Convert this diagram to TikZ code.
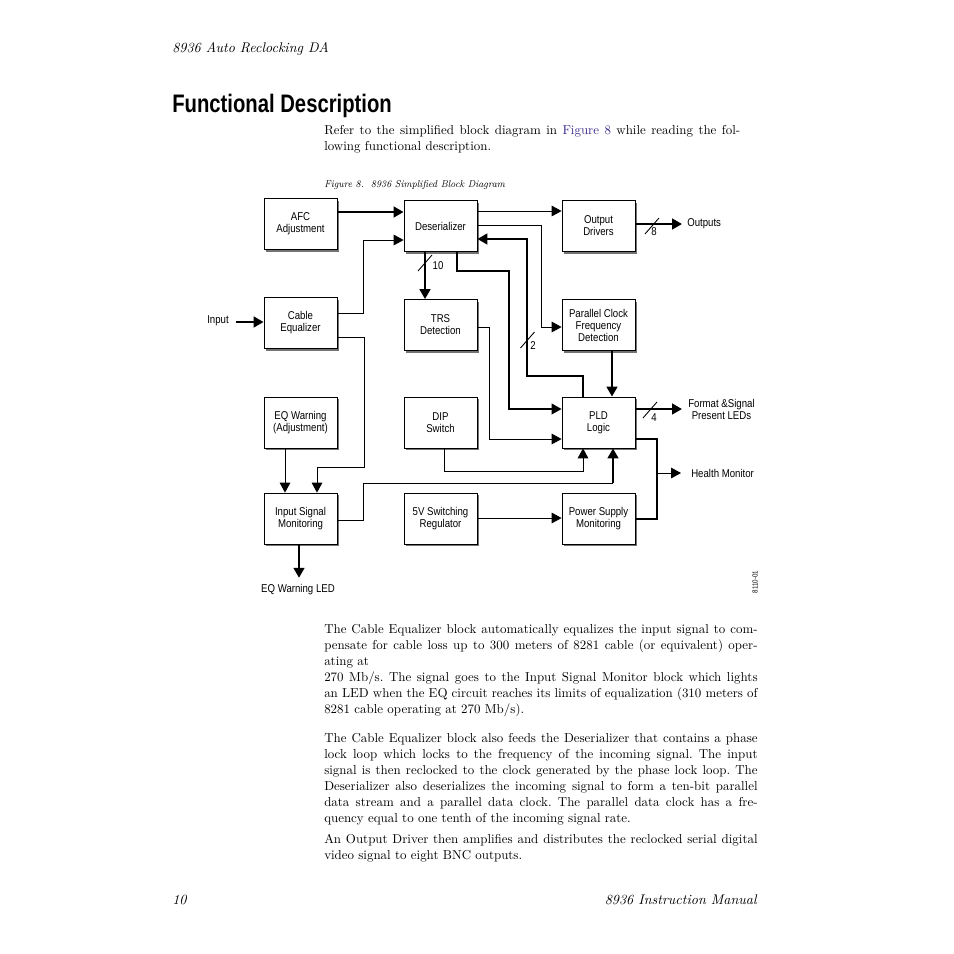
\documentclass[tikz,border=0pt]{standalone}
\usepackage{fontspec}
\usepackage{graphicx}
\usetikzlibrary{arrows.meta,shadows}
\newfontfamily\diagfont[FakeStretch=0.85]{Liberation Sans}
\newfontfamily\headfont[FakeStretch=0.8]{Liberation Sans}
\colorlet{shadowcol}{black!55}
\definecolor{linkcol}{RGB}{60,40,140}
\tikzstyle{block}=[draw, fill=white, line width=0.6pt, minimum width=54.75pt, minimum height=38.25pt, inner sep=1pt, align=center, font=\diagfont\fontsize{8.5}{9}\selectfont, drop shadow={shadow xshift=1.8pt, shadow yshift=-1.8pt, fill=shadowcol, opacity=1}]
\tikzstyle{lbl}=[inner sep=0pt, align=center, font=\diagfont\fontsize{8.5}{9}\selectfont]
\tikzstyle{wire}=[line width=0.65pt]
\tikzstyle{midbus}=[line width=1.3pt]
\tikzstyle{bus}=[line width=2pt]
\tikzstyle{pointer}=[-{Triangle[length=7.5pt, width=8pt]}]
\tikzstyle{bodytext}=[anchor=base west, inner sep=0pt, text width=325pt, align=justify, font=\frenchspacing\fontsize{9.7}{12}\selectfont]
\tikzstyle{pagetext}=[anchor=base west, inner sep=0pt, font=\itshape\fontsize{10.5}{12}\selectfont]

\begin{document}
\begin{tikzpicture}[x=0.75pt, y=-0.75pt]
	\useasboundingbox[fill=white] (0,0) rectangle (954,954);

	% Page text
	\node[pagetext] (runhead) at (172,52) {8936 Auto Reclocking DA};
	\node[anchor=base west, inner sep=0pt, font=\headfont\bfseries\fontsize{19}{22}\selectfont] (title) at (172,112) {Functional Description};
	\node[bodytext, text width=312pt] (intro) at (324,134) {Refer to the simplified block diagram in \textcolor{linkcol}{Figure 8} while reading the fol-\linebreak lowing functional description.};
	\node[anchor=base west, inner sep=0pt, font=\itshape\fontsize{7.5}{9}\selectfont] (figcap) at (324,187) {\scalebox{0.93}[1]{Figure 8.\ \ 8936 Simplified Block Diagram}};

	% Blocks
	\node[block] (afc) at (300.5,224) {AFC\\Adjustment};
	\node[block] (deser) at (440.5,226) {Deserializer};
	\node[block] (outdrv) at (598.5,226) {Output\\Drivers};
	\node[block] (cableq) at (300.5,323) {Cable\\Equalizer};
	\node[block] (trs) at (440.5,325) {TRS\\Detection};
	\node[block] (pcfd) at (598.5,325) {Parallel Clock\\Frequency\\Detection};
	\node[block] (eqwarn) at (300.5,422.5) {EQ Warning\\(Adjustment)};
	\node[block] (dip) at (440.5,422.5) {DIP\\Switch};
	\node[block] (pld) at (598.5,422.5) {PLD\\Logic};
	\node[block] (ism) at (300.5,518.5) {Input Signal\\Monitoring};
	\node[block] (sw5v) at (440.5,518.5) {5V Switching\\Regulator};
	\node[block] (psm) at (598.5,518.5) {Power Supply\\Monitoring};

	% Outside labels
	\node[lbl, anchor=east] (input) at (229,321) {Input};
	\node[lbl, anchor=west] (outputs) at (687,224) {Outputs};
	\node[lbl, anchor=west] (fmtled) at (688,409) {Format \&Signal\\Present LEDs};
	\node[lbl, anchor=west] (health) at (691,473) {Health Monitor};
	\node[lbl] (eqled) at (298,590) {EQ Warning LED};
	\node[lbl, rotate=90, font=\diagfont\fontsize{5.5}{6}\selectfont] (artno) at (755,582) {8110-01};

	% Input side
	\draw[bus,pointer,shorten <=5pt] (input.east |- 0,322) -- (cableq.west |- 0,322);
	\draw[bus,pointer] (afc.east |- 0,212) -- (deser.west |- 0,212);
	\draw[wire,pointer] (cableq.east |- 0,313) -| (363,240) -- (deser.west |- 0,240);
	\draw[wire,pointer] (cableq.east |- 0,337) -| (364,467) -| (ism.north -| 317,0);
	\draw[wire,pointer] (eqwarn.south -| 285,0) -- (ism.north -| 285,0);
	\draw[bus,pointer,shorten >=5pt] (ism.south -| 299,0) -- (eqled.north -| 299,0);
	% Deserializer outputs
	\draw[wire,pointer] (deser.east |- 0,211) -- (outdrv.west |- 0,211);
	\draw[wire,pointer] (deser.east |- 0,225) -| (541,327) -- (pcfd.west |- 0,327);
	\draw[bus,pointer] (deser.south -| 425,0) -- (trs.north -| 425,0);
	\draw[midbus,pointer] (deser.south -| 457,0) |- (509,271) |- (pld.west |- 0,409);
	\draw[bus,pointer] (pld.north -| 583,0) |- (527,376) |- (deser.east |- 0,239);
	\draw[bus,pointer,shorten >=3.75pt] (outdrv.east |- 0,224) -- (outputs.west |- 0,224);
	% Into PLD
	\draw[bus,pointer] (pcfd.south -| 612,0) -- (pld.north -| 612,0);
	\draw[wire,pointer] (trs.east |- 0,327) -| (489,439) -- (pld.west |- 0,439);
	\draw[wire,pointer] (dip.south -| 444,0) |- (583,471) -- (pld.south -| 583,0);
	\coordinate (ismbend) at (613,483);
	\draw[wire] (ism.east |- 0,520) -| (363,483) -- (ismbend);
	\draw[bus,pointer] (ismbend) -- (pld.south -| 613,0);
	\draw[wire,pointer] (sw5v.east |- 0,518) -- (psm.west |- 0,518);
	% PLD outputs
	\draw[bus,pointer,shorten >=4.5pt] (pld.east |- 0,409) -- (fmtled.west |- 0,409);
	\draw[midbus] (pld.east |- 0,439) -| (657,519) -- (psm.east |- 0,519);
	\draw[wire,pointer,shorten >=7.5pt] (657,473) -- (health.west);

	% Bus widths
	\foreach \sx/\sy/\lx/\ly/\w in {425/263/438/266/10, 652/226/654/232/8, 527.5/340/533/346/2, 650/410/654/418/4}{
		\draw[wire] (\sx-7,\sy+8) -- (\sx+7,\sy-8);
		\node[lbl] (bus\w) at (\lx,\ly) {\w};
	}

	% Description
	\node[bodytext] (para1) at (324,633) {The Cable Equalizer block automatically equalizes the input signal to com-\linebreak pensate for cable loss up to 300 meters of 8281 cable (or equivalent) oper-\linebreak ating at\\ 270 Mb/s. The signal goes to the Input Signal Monitor block which lights\linebreak an LED when the EQ circuit reaches its limits of equalization (310 meters of\linebreak 8281 cable operating at 270 Mb/s).};
	\node[bodytext] (para2) at (324,742) {The Cable Equalizer block also feeds the Deserializer that contains a phase\linebreak lock loop which locks to the frequency of the incoming signal. The input\linebreak signal is then reclocked to the clock generated by the phase lock loop. The\linebreak Deserializer also deserializes the incoming signal to form a ten-bit parallel\linebreak data stream and a parallel data clock. The parallel data clock has a fre-\linebreak quency equal to one tenth of the incoming signal rate.};
	\node[bodytext] (para3) at (324,843) {An Output Driver then amplifies and distributes the reclocked serial digital\linebreak video signal to eight BNC outputs.};

	\node[pagetext] (folio) at (172,904) {10};
	\node[pagetext, anchor=base east] (manual) at (757,904) {8936 Instruction Manual};
\end{tikzpicture}
\end{document}
